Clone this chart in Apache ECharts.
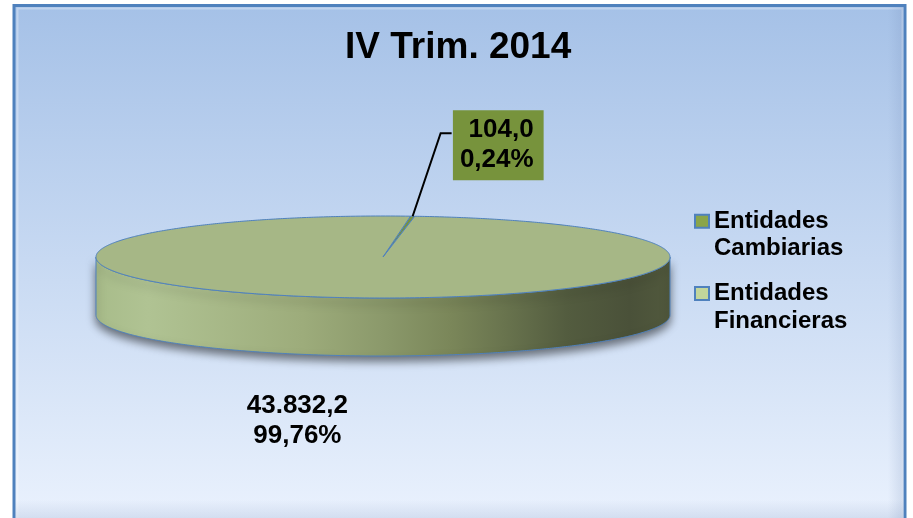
<!DOCTYPE html>
<html>
<head>
<meta charset="utf-8">
<script src="https://cdn.jsdelivr.net/npm/echarts@6/dist/echarts.min.js"></script>
<style>
html, body { margin: 0; padding: 0; background: #fff; }
#chart { width: 913px; height: 518px; }
</style>
</head>
<body>
<div id="chart"></div>
<script>
const chartTitle = 'IV Trim. 2014';
const categories = ['Entidades Cambiarias', 'Entidades Financieras'];
const values = [104.0, 43832.2];

// look of the flattened 3d pie
const FONT = '"Liberation Sans", Arial, sans-serif';
const pie = { cx: 383, cy: 257, rx: 287, ry: 41, depth: 58, startAngle: 84.5 };
const sliceColors = ['#77933c', '#a6b786'];
const legendColors = ['#8aa54a', '#c3d69b'];
const edgeColor = '#4f81bd';

const total = values.reduce((a, b) => a + b, 0);
// angles in degrees, going clockwise from startAngle
let acc = pie.startAngle;
const slices = values.map(v => {
  const span = v / total * 360;
  const s = { t0: acc, t1: acc - span };
  acc -= span;
  return s;
});

function fmtNum(v, dec) {
  const parts = v.toFixed(dec).split('.');
  parts[0] = parts[0].replace(/\B(?=(\d{3})+(?!\d))/g, '.');
  return parts.join(',');
}

function ellPoint(t, dy) {
  const r = t * Math.PI / 180;
  return [pie.cx + pie.rx * Math.cos(r), pie.cy - pie.ry * Math.sin(r) + dy];
}

function arcPoints(from, to, dy) {
  const n = Math.max(2, Math.ceil(Math.abs(to - from) / 0.5));
  const pts = [];
  for (let k = 0; k <= n; k++) {
    pts.push(ellPoint(from + (to - from) * k / n, dy));
  }
  return pts;
}

// parts of a slice that face the viewer (front half of the ellipse)
function frontRanges(s) {
  const out = [];
  for (let k = -2; k <= 2; k++) {
    const a = Math.max(s.t1, -180 + 360 * k);
    const b = Math.min(s.t0, 360 * k);
    if (b > a) out.push([a, b]);
  }
  return out;
}

const sideGradient = {
  type: 'linear', global: true,
  x: pie.cx - pie.rx, y: 0, x2: pie.cx + pie.rx, y2: 0,
  colorStops: [
    { offset: 0, color: '#a8bc8a' },
    { offset: 0.09, color: '#b0c393' },
    { offset: 0.36, color: '#9dac7b' },
    { offset: 0.5, color: '#8b996b' },
    { offset: 0.62, color: '#7a8659' },
    { offset: 0.71, color: '#69744e' },
    { offset: 0.82, color: '#535c3f' },
    { offset: 0.93, color: '#4a5139' },
    { offset: 1, color: '#51593d' }
  ]
};

// label placement relative to the slice middle on the rim
const labelPlace = [
  { dx: 28, dy: -83, leader: true },
  { dx: -56, dy: 123, leader: false }
];

function renderSlice(i) {
  return function (params, api) {
    const s = slices[i];
    const children = [];
    frontRanges(s).forEach(r => {
      const top = arcPoints(r[0], r[1], 0);
      const bottom = arcPoints(r[1], r[0], pie.depth);
      children.push({
        type: 'polygon',
        shape: { points: top.concat(bottom) },
        style: {
          fill: sideGradient, stroke: edgeColor, lineWidth: 1,
          shadowBlur: 9, shadowOffsetY: 5, shadowColor: 'rgba(0,0,0,0.5)'
        }
      });
    });
    children.push({
      type: 'polygon',
      shape: { points: [[pie.cx, pie.cy]].concat(arcPoints(s.t0, s.t1, 0)) },
      style: { fill: sliceColors[i], stroke: edgeColor, lineWidth: 1 }
    });

    const v = values[i];
    const txt = fmtNum(v, 1) + '\n' + fmtNum(v / total * 100, 2) + '%';
    const anchor = ellPoint((s.t0 + s.t1) / 2, 0);
    const lp = labelPlace[i];
    if (lp.leader) {
      const elbow = [anchor[0] + lp.dx, anchor[1] + lp.dy];
      const end = [elbow[0] + 11, elbow[1]];
      children.push({
        type: 'polyline',
        shape: { points: [anchor, elbow, end] },
        style: { stroke: '#000', lineWidth: 2, fill: null }
      });
      children.push({
        type: 'text',
        x: end[0] + 92, y: end[1] - 23,
        style: {
          text: txt, fill: '#000', fontFamily: FONT, fontSize: 26, fontWeight: 'bold',
          lineHeight: 30, align: 'right', verticalAlign: 'top',
          backgroundColor: sliceColors[i], padding: [5, 10, 5, 7]
        }
      });
    } else {
      children.push({
        type: 'text',
        x: anchor[0] + lp.dx, y: anchor[1] + lp.dy,
        style: {
          text: txt, fill: '#000', fontFamily: FONT, fontSize: 26, fontWeight: 'bold',
          lineHeight: 30, align: 'center', verticalAlign: 'middle'
        }
      });
    }
    return { type: 'group', children: children };
  };
}

const chart = echarts.init(document.getElementById('chart'));
chart.setOption({
  backgroundColor: '#fff',
  animation: false,
  title: {
    text: chartTitle,
    left: 345, top: 29, padding: 0,
    textStyle: { fontFamily: FONT, fontSize: 37, fontWeight: 'bold', color: '#000' }
  },
  legend: {
    orient: 'vertical', left: 694, top: 180, padding: 0,
    itemGap: -10.3, itemWidth: 14, itemHeight: 13, icon: 'rect',
    selectedMode: false,
    data: categories.map((name, i) => ({
      name: name,
      itemStyle: { color: legendColors[i], borderColor: edgeColor, borderWidth: 2 }
    })),
    // empty first line so the icon sits beside the first word
    formatter: n => '\n' + n.replace(' ', '\n'),
    textStyle: {
      fontFamily: FONT, fontSize: 24, fontWeight: 'bold', color: '#000',
      lineHeight: 27.5
    }
  },
  graphic: [
    {
      type: 'rect', z: -10, silent: true,
      shape: { x: 14, y: 5.5, width: 891, height: 530 },
      style: {
        fill: {
          type: 'linear', x: 0, y: 0, x2: 0, y2: 1,
          colorStops: [{ offset: 0, color: '#a5c1e7' }, { offset: 1, color: '#ecf3fe' }]
        },
        stroke: '#4f81bd', lineWidth: 3
      }
    },
    {
      type: 'rect', z: -9, silent: true,
      shape: { x: 17.5, y: 8.5, width: 885, height: 530 },
      style: { fill: null, stroke: 'rgba(255,255,255,0.3)', lineWidth: 2 }
    },
    {
      type: 'rect', z: -9, silent: true,
      shape: { x: 888, y: 7, width: 15.5, height: 511 },
      style: {
        fill: {
          type: 'linear', x: 0, y: 0, x2: 1, y2: 0,
          colorStops: [{ offset: 0, color: 'rgba(110,135,180,0)' }, { offset: 1, color: 'rgba(110,135,180,0.2)' }]
        }
      }
    },
    {
      type: 'rect', z: -9, silent: true,
      shape: { x: 15.5, y: 500, width: 888, height: 18 },
      style: {
        fill: {
          type: 'linear', x: 0, y: 0, x2: 0, y2: 1,
          colorStops: [{ offset: 0, color: 'rgba(110,135,180,0)' }, { offset: 1, color: 'rgba(110,135,180,0.18)' }]
        }
      }
    }
  ],
  series: categories.map((name, i) => ({
    type: 'custom',
    name: name,
    coordinateSystem: 'none',
    silent: true,
    itemStyle: { color: legendColors[i] },
    data: [values[i]],
    renderItem: renderSlice(i)
  }))
});
</script>
</body>
</html>
